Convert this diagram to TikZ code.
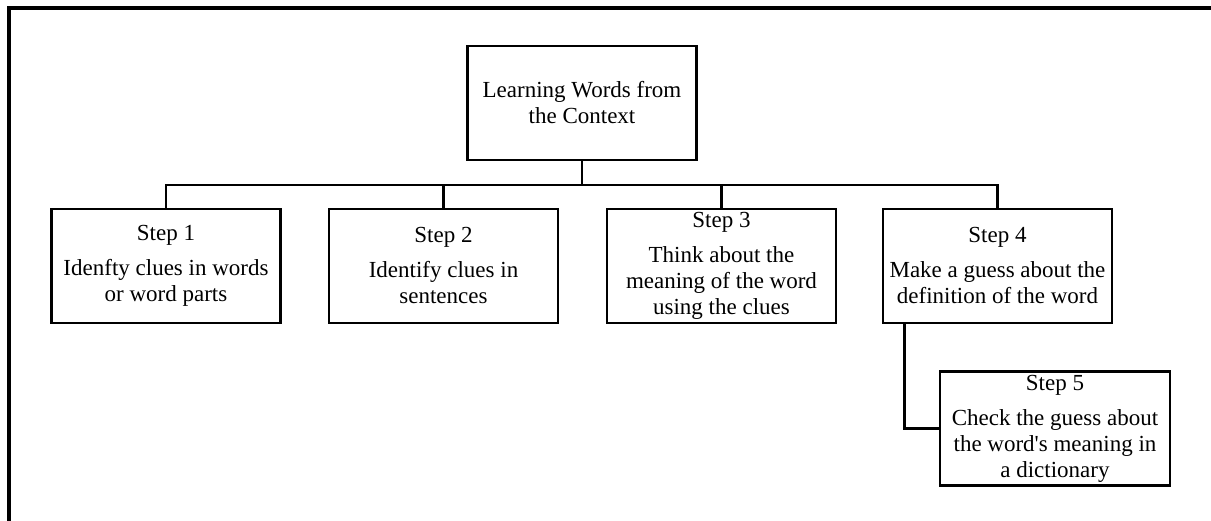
\documentclass[tikz,border=0pt]{standalone}
\usepackage{fontspec}
\setmainfont{Liberation Serif}[Ligatures=TeXOff]
\usepackage{tikz}
\usetikzlibrary{positioning,calc}

\begin{document}
\begin{tikzpicture}[x=1pt,y=1pt,
    stepbox/.style={draw, line width=2.6pt, inner sep=0pt, align=center,
      minimum width=229pt, minimum height=114pt,
      font=\fontsize{23}{26}\selectfont}]
    \useasboundingbox (0,0) rectangle (1211,521);

    % outer frame, only left and top
    \draw[line width=3.5pt] (9,0) -- (9,513) -- (1211,513);

    % the title and the steps
    \node[stepbox] (title) at (582,418) {Learning Words from\\the Context};
    \node[stepbox] (s1) at (166,255) {Step 1\\[9pt]Idenfty clues in words\\or word parts};
    \node[stepbox] (s2) at (443.5,255) {Step 2\\[9pt]Identify clues in\\sentences};
    \node[stepbox] (s3) at (721.5,255) {Step 3\\[9pt]Think about the\\meaning of the word\\using the clues};
    \node[stepbox] (s4) at (997.5,255) {Step 4\\[9pt]Make a guess about the\\definition of the word};
    \node[stepbox, minimum width=230pt] (s5) at (1055,92.5) {Step 5\\[9pt]Check the guess about\\the word's meaning in\\a dictionary};

    % connectors
    \coordinate (bus) at (582,336);
    \draw[line width=2.6pt] (title.south) -- (bus);
    \foreach \i in {1,...,4}
      \draw[line width=2.6pt] (bus) -| (s\i.north);
    \draw[line width=2.6pt] ($(s4.south west)+(23,0)$) |- (s5.west);
\end{tikzpicture}
\end{document}
